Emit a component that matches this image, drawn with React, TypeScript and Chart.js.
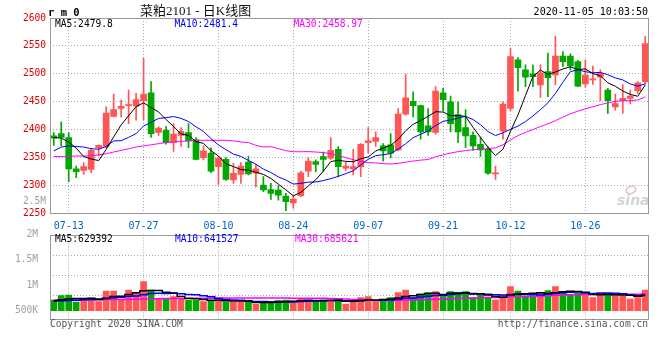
import React, { useEffect, useRef } from 'react';
import { Chart, registerables } from 'chart.js';

Chart.register(...registerables);

const MONO = "'DejaVu Sans Mono', 'Liberation Mono', monospace";
const RED = '#FF5555';
const GREEN = '#00A800';
const GRID = '#AAAAAA';
const FRAME = '#999999';

const dates = [
  '07-09','07-10','07-13','07-14','07-15','07-16','07-17','07-20','07-21','07-22','07-23','07-24','07-27','07-28','07-29','07-30','07-31',
  '08-03','08-04','08-05','08-06','08-07','08-10','08-11','08-12','08-13','08-14','08-17','08-18','08-19','08-20','08-21','08-24','08-25','08-26','08-27','08-28','08-31',
  '09-01','09-02','09-03','09-04','09-07','09-08','09-09','09-10','09-11','09-14','09-15','09-16','09-17','09-18','09-21','09-22','09-23','09-24','09-25','09-28','09-29','09-30',
  '10-09','10-12','10-13','10-14','10-15','10-16','10-19','10-20','10-21','10-22','10-23','10-26','10-27','10-28','10-29','10-30',
  '11-02','11-03','11-04','11-05'
];
const tickLabels = ['07-13', '07-27', '08-10', '08-24', '09-07', '09-21', '10-12', '10-26'];

const opens = [2389,2393,2386,2330,2327,2329,2368,2370,2424,2438, 2443,2442,2452,2466,2395,2399,2377,2390,2395,2382, 2350,2358,2334,2347,2310,2320,2342,2322,2301,2293, 2292,2281,2269,2282,2326,2343,2352,2349,2365,2331, 2330,2334,2377,2379,2371,2373,2364,2428,2451,2443, 2407,2395,2466,2450,2427,2404,2390,2374,2365,2321, 2398,2438,2525,2507,2500,2480,2504,2498,2532,2532, 2522,2482,2489,2494,2471,2441,2452,2456,2470,2486];
const highs = [2395,2414,2395,2335,2341,2366,2373,2441,2464,2453, 2471,2465,2528,2486,2405,2406,2411,2404,2411,2386, 2371,2368,2352,2350,2340,2341,2353,2338,2316,2304, 2300,2286,2283,2326,2350,2346,2360,2386,2370,2342, 2365,2375,2404,2396,2375,2393,2438,2499,2468,2444, 2438,2477,2474,2460,2450,2436,2396,2387,2370,2335, 2450,2546,2529,2516,2516,2516,2537,2567,2540,2536, 2524,2525,2514,2507,2474,2464,2481,2471,2486,2567];
const lows = [2372,2371,2307,2314,2320,2323,2353,2368,2423,2423, 2411,2417,2418,2386,2390,2374,2361,2370,2368,2346, 2346,2323,2302,2309,2304,2304,2319,2297,2289,2275, 2274,2255,2259,2280,2316,2325,2325,2347,2316,2327, 2319,2316,2358,2370,2344,2350,2362,2426,2423,2383, 2390,2392,2434,2396,2377,2368,2363,2352,2320,2311, 2383,2434,2469,2477,2477,2458,2459,2480,2513,2507, 2477,2476,2481,2452,2429,2435,2429,2446,2465,2482];
const closes = [2385,2386,2330,2325,2334,2363,2372,2430,2436,2442, 2445,2454,2464,2393,2403,2377,2392,2397,2380,2347, 2362,2326,2349,2311,2322,2335,2321,2330,2292,2286, 2283,2271,2276,2323,2344,2338,2347,2363,2334,2335, 2334,2374,2380,2386,2362,2358,2428,2457,2443,2396, 2396,2469,2454,2411,2396,2389,2371,2364,2322,2323, 2446,2531,2511,2494,2495,2502,2493,2532,2522,2514, 2478,2498,2491,2501,2452,2447,2456,2460,2484,2554];
// volume in thousand lots
const volumes = [437,613,641,355,423,518,369,804,804,477, 845,749,1185,845,477,505,573,505,423,423, 369,396,505,355,355,355,341,260,369,369, 409,437,328,505,437,396,437,369,477,273, 396,532,573,369,396,532,736,845,532,681, 736,777,573,777,736,777,532,641,505,437, 641,981,804,573,573,736,817,981,777,641, 709,641,532,736,681,641,600,477,532,845];

// moving-average values before a full window is available
const ma5Head = [2386, 2385, 2378, 2367];
const ma10Head = [2362, 2369, 2371, 2370, 2369, 2366, 2365, 2370, 2380];
const ma30Head = [2352,2352,2352,2353,2353,2353,2355,2357,2360,2363, 2366,2369,2371,2373,2375,2377,2378,2379,2380,2381, 2381,2381,2381,2381,2380,2378,2377,2372,2369];
const volMa5Head = [410, 440, 480, 500];
const volMa10Head = [400, 410, 420, 430, 445, 460, 480, 505, 525];
const volMa30Head = [437,437,438,440,442,445,448,452,456,460,465,470,476,482,488,493,497,501,505,508,510,512,514,515,516,517,518,519,520];

const priceMA = ['MA5:2479.8', 'MA10:2481.4', 'MA30:2458.97'];
const volumeMA = ['MA5:629392', 'MA10:641527', 'MA30:685621'];
const volTickValues = [0.5, 1, 1.5, 2];
const volTickLabels = ['500K', '1M', '1.5M', '2M'];
const volGridValues = [1, 2, 3];

function movingAverage(values: number[], n: number, head: number[]) {
  return values.map((_, i) => {
    if (i < n - 1) return head[i];
    let s = 0;
    for (let j = i - n + 1; j <= i; j++) s += values[j];
    return s / n;
  });
}

const candleColors = closes.map((c, i) => (c >= opens[i] ? RED : GREEN));

function text(ctx: CanvasRenderingContext2D, s: string, x: number, y: number, font: string, color: string, align: CanvasTextAlign = 'left') {
  ctx.save();
  ctx.font = font;
  ctx.fillStyle = color;
  ctx.textAlign = align;
  ctx.textBaseline = 'alphabetic';
  ctx.fillText(s, x, y);
  ctx.restore();
}

const framePlugin = {
  id: 'frame',
  afterDraw(chart: any) {
    const { ctx, chartArea: a } = chart;
    ctx.save();
    ctx.strokeStyle = FRAME;
    ctx.lineWidth = 1;
    const l = Math.round(a.left) + 0.5;
    const t = Math.round(a.top) + 0.5;
    const r = Math.round(a.right) - 0.5;
    const b = Math.round(a.bottom) - 0.5;
    ctx.strokeRect(l, t, r - l, b - t);
    ctx.restore();
  },
};

const xGridColor = (c: any) => (tickLabels.includes(dates[c.index]) ? GRID : 'rgba(0,0,0,0)');

export default function App() {
  const mainRef = useRef<HTMLCanvasElement>(null);
  const volRef = useRef<HTMLCanvasElement>(null);

  useEffect(() => {
    const ma5 = movingAverage(closes, 5, ma5Head);
    const ma10 = movingAverage(closes, 10, ma10Head);
    const ma30 = movingAverage(closes, 30, ma30Head);
    const vma5 = movingAverage(volumes, 5, volMa5Head);
    const vma10 = movingAverage(volumes, 10, volMa10Head);
    const vma30 = movingAverage(volumes, 30, volMa30Head);

    const mainText = {
      id: 'mainText',
      beforeDatasetsDraw(chart: any) {
        const ctx = chart.ctx as CanvasRenderingContext2D;
        ctx.save();
        ctx.strokeStyle = '#E8C0C0';
        ctx.lineWidth = 1.5;
        ctx.beginPath();
        ctx.ellipse(631, 190, 5, 3.5, -0.3, 0, Math.PI * 2);
        ctx.stroke();
        ctx.restore();
        text(ctx, 'sina', 617, 205, "italic bold 14px 'DejaVu Sans'", '#D4D4D4');
      },
      afterDraw(chart: any) {
        const ctx = chart.ctx as CanvasRenderingContext2D;
        text(ctx, 'r m 0', 48, 15.5, `bold 10.5px ${MONO}`, '#000');
        text(ctx, '菜粕2101 - 日K线图', 140, 14.5, "13px 'Liberation Serif', 'Noto Sans CJK SC'", '#111');
        text(ctx, '2020-11-05 10:03:50', 648, 15, `10px ${MONO}`, '#000', 'right');
        text(ctx, priceMA[0], 55, 27, `9.6px ${MONO}`, '#000');
        text(ctx, priceMA[1], 174.5, 27, `9.6px ${MONO}`, '#0000FF');
        text(ctx, priceMA[2], 293.5, 27, `9.6px ${MONO}`, '#FF00FF');
        text(ctx, '2.5M', 46, 204, `9.6px ${MONO}`, '#A0A0A0', 'right');
      },
    };

    const volText = {
      id: 'volText',
      afterDraw(chart: any) {
        const ctx = chart.ctx as CanvasRenderingContext2D;
        text(ctx, volumeMA[0], 55, 18, `9.6px ${MONO}`, '#000');
        text(ctx, volumeMA[1], 175, 18, `9.6px ${MONO}`, '#0000FF');
        text(ctx, volumeMA[2], 295, 18, `9.6px ${MONO}`, '#FF00FF');
        text(ctx, 'Copyright 2020 SINA.COM', 50, 103, `9.6px ${MONO}`, '#555');
        text(ctx, 'http://finance.sina.com.cn', 648, 103, `9.6px ${MONO}`, '#555', 'right');
      },
    };

    const lineDs = (label: string, data: number[], color: string, axis: string, width: number, stepped: any) => ({
      type: 'line' as const,
      label,
      data,
      borderColor: color,
      borderWidth: width,
      pointRadius: 0,
      tension: 0,
      stepped,
      yAxisID: axis,
      order: 1,
    });

    const main = new Chart(mainRef.current!, {
      type: 'bar',
      data: {
        labels: dates,
        datasets: [
          lineDs('MA5', ma5, '#000000', 'y', 1, false) as any,
          lineDs('MA10', ma10, '#0000FF', 'y', 1, false) as any,
          lineDs('MA30', ma30, '#FF00FF', 'y', 1, false) as any,
          {
            type: 'bar',
            label: 'wick',
            data: lows.map((l, i) => [l, highs[i]]),
            backgroundColor: candleColors,
            barThickness: 1,
            grouped: false,
            yAxisID: 'y',
            order: 3,
          } as any,
          {
            type: 'bar',
            label: 'body',
            data: opens.map((o, i) => [o, closes[i]]),
            backgroundColor: candleColors,
            barThickness: 6,
            minBarLength: 1,
            grouped: false,
            yAxisID: 'y',
            order: 2,
          } as any,
        ],
      },
      options: {
        animation: false,
        responsive: false,
        maintainAspectRatio: false,
        layout: { padding: { top: 18, right: 11, left: 0, bottom: 0 } },
        plugins: { legend: { display: false }, tooltip: { enabled: false } },
        scales: {
          x: {
            type: 'category',
            offset: true,
            grid: { offset: false, color: xGridColor, drawTicks: false, lineWidth: 1 },
            border: { display: false, dash: [1, 2] },
            ticks: {
              autoSkip: false,
              maxRotation: 0,
              minRotation: 0,
              padding: 7,
              color: '#0066CC',
              font: { family: MONO, size: 10 },
              callback: (_v: any, i: number) => (tickLabels.includes(dates[i]) ? dates[i] : ''),
            },
            afterFit: (s: any) => { s.height = 18.5; },
          },
          y: {
            min: 2250,
            max: 2600,
            grid: { color: GRID, drawTicks: false },
            border: { display: false, dash: [1, 2] },
            ticks: {
              stepSize: 50,
              color: '#DD0000',
              padding: 4,
              font: { family: MONO, size: 9.6 },
              callback: (v: any) => String(v),
            },
            afterFit: (s: any) => { s.width = 50; },
          },
        },
      } as any,
      plugins: [framePlugin, mainText],
    });

    const vol = new Chart(volRef.current!, {
      type: 'bar',
      data: {
        labels: dates,
        datasets: [
          lineDs('VMA5', vma5, '#000000', 'yVol', 1.5, 'middle') as any,
          lineDs('VMA10', vma10, '#0000FF', 'yVol', 1.5, 'middle') as any,
          lineDs('VMA30', vma30, '#FF00FF', 'yVol', 1.5, 'middle') as any,
          {
            type: 'bar',
            label: 'volume',
            data: volumes,
            backgroundColor: candleColors,
            barThickness: 6,
            grouped: false,
            yAxisID: 'yVol',
            order: 2,
          } as any,
        ],
      },
      options: {
        animation: false,
        responsive: false,
        maintainAspectRatio: false,
        layout: { padding: { top: 10.5, right: 11, left: 0, bottom: 40 } },
        plugins: { legend: { display: false }, tooltip: { enabled: false } },
        scales: {
          x: {
            type: 'category',
            offset: true,
            grid: { offset: false, color: xGridColor, drawTicks: false, lineWidth: 1 },
            border: { display: false, dash: [1, 2] },
            ticks: { display: false, autoSkip: false, maxRotation: 0 },
            afterFit: (s: any) => { s.height = 0; },
          },
          yVol: { display: false, min: -380, max: 3110 },
          yLab: {
            position: 'left',
            min: 0.317,
            max: 2.0,
            afterBuildTicks: (s: any) => { s.ticks = volTickValues.map((v) => ({ value: v })); },
            grid: { display: false },
            border: { display: false },
            ticks: {
              color: '#A0A0A0',
              padding: 4,
              font: { family: MONO, size: 9.6 },
              callback: (_v: any, i: number) => volTickLabels[i],
            },
            afterFit: (s: any) => { s.width = 50; },
          },
          yGrid: {
            position: 'right',
            min: -0.25,
            max: 4.025,
            afterBuildTicks: (s: any) => { s.ticks = volGridValues.map((v) => ({ value: v })); },
            grid: { color: GRID, drawTicks: false },
            border: { display: false, dash: [1, 2] },
            ticks: { display: false },
            afterFit: (s: any) => { s.width = 0; },
          },
        },
      } as any,
      plugins: [framePlugin, volText],
    });

    return () => {
      main.destroy();
      vol.destroy();
    };
  }, []);

  return (
    <div style={{ position: 'fixed', left: 0, top: 0, width: 660, height: 360, background: '#fff', overflow: 'hidden' }}>
      <canvas ref={mainRef} width={660} height={232} style={{ position: 'absolute', left: 0, top: 0, width: 660, height: 232 }} />
      <canvas ref={volRef} width={660} height={136} style={{ position: 'absolute', left: 0, top: 224, width: 660, height: 136 }} />
    </div>
  );
}
